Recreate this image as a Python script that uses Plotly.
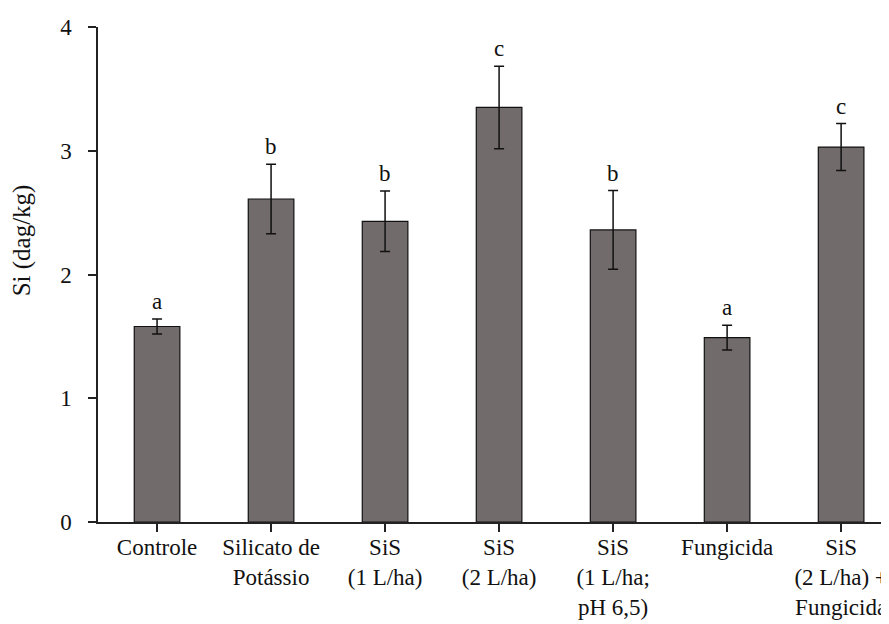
import plotly.graph_objects as go

categories = ["Controle", "Silicato de<br>Potássio", "SiS<br>(1 L/ha)", "SiS<br>(2 L/ha)",
              "SiS<br>(1 L/ha;<br>pH 6,5)", "Fungicida", "SiS<br>(2 L/ha) +<br>Fungicida"]
means = [1.58, 2.61, 2.43, 3.35, 2.36, 1.49, 3.03]
errors = [0.06, 0.28, 0.245, 0.333, 0.318, 0.10, 0.19]
letters = ["a", "b", "b", "c", "b", "a", "c"]
y_ticks = [0, 1, 2, 3, 4]
y_title = "Si (dag/kg)"

FONT = "Liberation Serif, Times New Roman, serif"

fig = go.Figure()
fig.add_trace(go.Bar(
    x=categories, y=means, width=0.40,
    marker=dict(color="#726b6b", line=dict(color="#111111", width=1.2)),
    error_y=dict(type="data", array=errors, visible=True, color="#111111",
                 thickness=1.5, width=5),
    showlegend=False,
))

for c, m, e, l in zip(categories, means, errors, letters):
    fig.add_annotation(x=c, y=m + e, text=l, showarrow=False, yanchor="bottom",
                       yshift=3, font=dict(family=FONT, size=23, color="#111111"))

# y-axis title, placed as in the reference (above the plot's vertical centre)
fig.add_annotation(x=0, y=0.569, xref="paper", yref="paper", text=y_title,
                   textangle=-90, showarrow=False, xanchor="center", yanchor="middle",
                   xshift=-76, font=dict(family=FONT, size=25, color="#111111"))

fig.update_layout(
    width=881, height=616,
    margin=dict(l=90, r=0, t=19, b=102),
    paper_bgcolor="white", plot_bgcolor="white",
    font=dict(family=FONT, size=22, color="#111111"),
    bargap=0.6,
)
fig.update_xaxes(
    range=[-0.518, 6.42], showline=True, linecolor="#222222", linewidth=1.5,
    ticks="outside", ticklen=8, tickcolor="#222222", tickwidth=1.5,
    showgrid=False, tickfont=dict(family=FONT, size=23), ticklabelstandoff=-4,
)
fig.update_yaxes(
    range=[0, 4], tickvals=y_ticks, showline=True, linecolor="#222222", linewidth=1.5,
    ticks="outside", ticklen=8, tickcolor="#222222", tickwidth=1.5,
    showgrid=False, zeroline=False, tickfont=dict(family=FONT, size=23),
    ticklabelstandoff=12,
)

fig.write_html("out.html")
